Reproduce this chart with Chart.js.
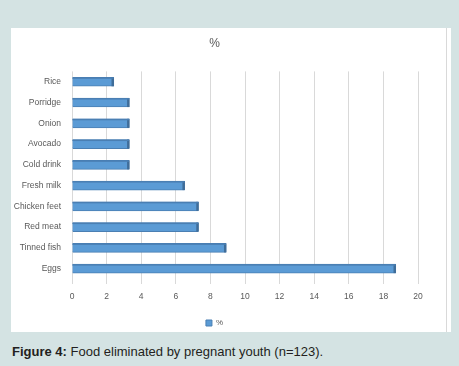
<!DOCTYPE html>
<html><head><meta charset="utf-8">
<script src="https://cdn.jsdelivr.net/npm/chart.js@4"></script>
<style>
html,body{margin:0;padding:0;}
body{width:459px;height:366px;background:#d4e3e3;position:relative;overflow:hidden;font-family:"Liberation Sans",Arial,sans-serif;}
#panel{position:absolute;left:11px;top:28px;width:440px;height:304px;background:#fff;}
#panel:after{content:"";position:absolute;left:435px;top:0;width:1px;height:304px;background:#d9d9d9;}
#wrap{position:absolute;left:0;top:0;width:435px;height:311px;}
#cap{position:absolute;left:12px;top:344px;font-size:13px;color:#231f20;white-space:nowrap;}
#cap b{font-weight:bold;}
</style></head><body>
<div id="panel"><div id="wrap"><canvas id="c"></canvas></div></div>
<div id="cap"><b>Figure 4:</b> Food eliminated by pregnant youth (n=123).</div>
<script>
const categories = ['Rice','Porridge','Onion','Avocado','Cold drink','Fresh milk','Chicken feet','Red meat','Tinned fish','Eggs'];
const percentValues = [2.4, 3.3, 3.3, 3.3, 3.3, 6.5, 7.3, 7.3, 8.9, 18.7];
const seriesName = '%';
const xTicks = [0,2,4,6,8,10,12,14,16,18,20];

const shade3d = {
  id:'shade3d',
  afterDatasetsDraw(chart){
    const ctx = chart.ctx;
    const meta = chart.getDatasetMeta(0);
    ctx.save();
    meta.data.forEach(el=>{
      const p = el.getProps(['x','y','base','height'], true);
      const top = p.y - p.height/2;
      ctx.fillStyle = '#3f6d99';
      ctx.fillRect(p.x-2, top, 2.5, p.height);
      ctx.fillStyle = '#4a7fb3';
      ctx.fillRect(p.base, top, p.x-p.base, 1.5);
    });
    ctx.restore();
  }
};

new Chart(document.getElementById('c'), {
  type:'bar',
  data:{labels:categories, datasets:[{label:seriesName, data:percentValues, backgroundColor:'#5b9bd5', borderColor:'#4a7fb3', borderWidth:1, barThickness:9}]},
  options:{
    indexAxis:'y', responsive:true, maintainAspectRatio:false, animation:false,
    layout:{padding:{left:0,right:28,top:0,bottom:2}},
    plugins:{
      title:{display:true,text:'%',color:'#595959',font:{size:12,weight:'normal',family:'Liberation Sans'},padding:{top:8,bottom:21}},
      legend:{position:'bottom',labels:{boxWidth:6,boxHeight:6,color:'#595959',font:{size:8,family:'Liberation Sans'},padding:4}},
      tooltip:{enabled:false}
    },
    scales:{
      x:{min:0,max:20,afterBuildTicks(s){s.ticks=xTicks.map(v=>({value:v}));},
         afterFit(s){s.height=36;},
         ticks:{color:'#595959',font:{size:8.5,family:'Liberation Sans'},padding:8},
         grid:{color:'#d9d9d9',drawTicks:true,tickLength:5},border:{display:false}},
      y:{afterFit(s){s.width=61;},
         ticks:{color:'#595959',font:{size:8.5,family:'Liberation Sans'},padding:3},
         grid:{display:false},border:{display:false}}
    }
  },
  plugins:[shade3d]
});
</script>
</body></html>
